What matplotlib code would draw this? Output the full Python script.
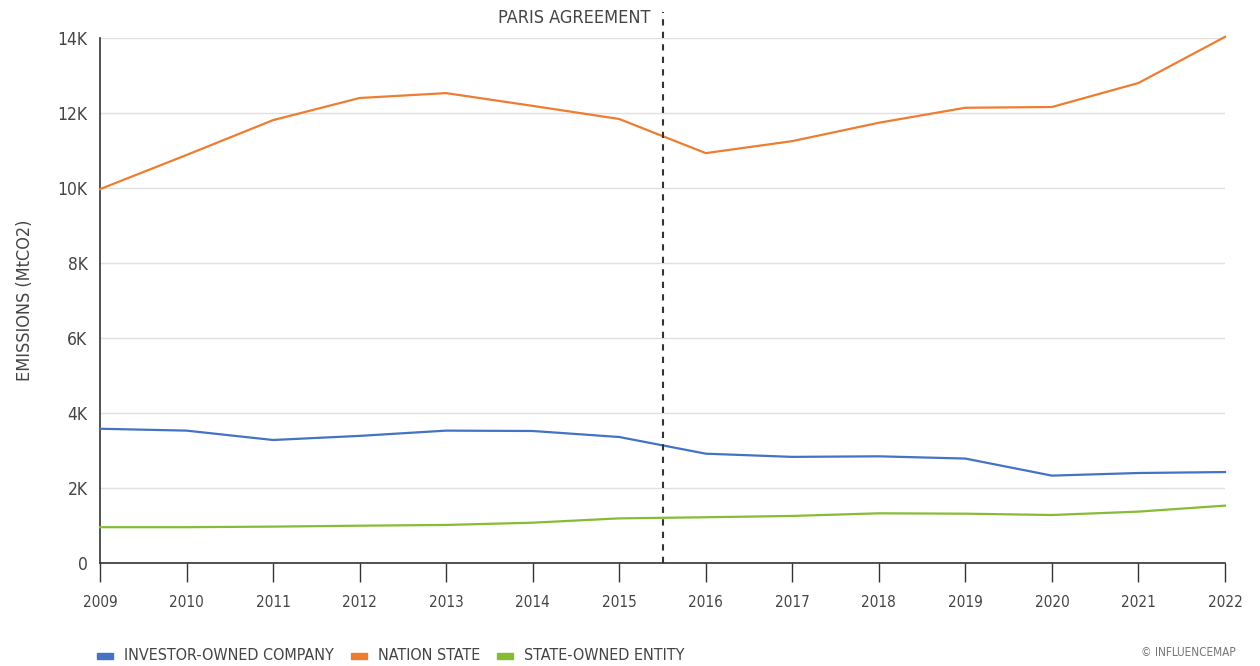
import matplotlib.pyplot as plt
from matplotlib import font_manager
from matplotlib.patches import Rectangle

# look for a narrow / condensed face among installed fonts
cands = []
for f in font_manager.fontManager.ttflist:
    low = (f.name + " " + f.fname).lower()
    if "narrow" in low or "condensed" in low or f.stretch in ("condensed", "semi-condensed", 75, 87):
        cands.append(f)
cands.sort(key=lambda f: (f.weight not in (400, "normal", "regular"), "italic" in f.style, "oblique" in f.fname.lower()))
narrow = cands[0].fname if cands else None

def FP(size):
    if narrow:
        return font_manager.FontProperties(fname=narrow, size=size)
    return font_manager.FontProperties(family="DejaVu Sans", size=size)

years = list(range(2009, 2023))
investor = [3580, 3530, 3280, 3390, 3530, 3520, 3360, 2915, 2830, 2845, 2785, 2330, 2400, 2425]
nation = [9970, 10880, 11810, 12400, 12530, 12190, 11840, 10930, 11250, 11740, 12140, 12160, 12800, 14030]
state_owned = [955, 955, 970, 995, 1015, 1075, 1190, 1220, 1255, 1325, 1315, 1280, 1370, 1530]
labels = ["INVESTOR-OWNED COMPANY", "NATION STATE", "STATE-OWNED ENTITY"]
colors = ["#4472C4", "#ED7D31", "#86BC34"]
ytick_vals = [0, 2000, 4000, 6000, 8000, 10000, 12000, 14000]
ytick_labels = ["0", "2K", "4K", "6K", "8K", "10K", "12K", "14K"]
paris_x = 2015.5

txt = "#444444"
fig = plt.figure(figsize=(12.6, 6.66), dpi=100)
ax = fig.add_axes([100 / 1260, 1 - 563 / 666, 1125 / 1260, 525 / 666])

for series, lab, c in zip([investor, nation, state_owned], labels, colors):
    ax.plot(years, series, color=c, lw=1.6, label=lab, clip_on=False, zorder=3)

ax.set_xlim(2009, 2022)
ax.set_ylim(0, 14000)
ax.set_xticks(years)
ax.set_xticklabels([str(y) for y in years], fontproperties=FP(11), color=txt)
ax.set_yticks(ytick_vals)
ax.set_yticklabels(ytick_labels, fontproperties=FP(12.5), color=txt)
ax.grid(axis="y", color="#e0e0e0", lw=1)
ax.set_axisbelow(True)
for s in ["top", "right"]:
    ax.spines[s].set_visible(False)
for s in ["left", "bottom"]:
    ax.spines[s].set_color("#333333")
    ax.spines[s].set_linewidth(1.2)
ax.tick_params(axis="x", length=14, width=1, color="#333333", pad=9)
ax.tick_params(axis="y", length=0, pad=9)
fig.text(25 / 1260, 1 - 300 / 666, "EMISSIONS (MtCO2)", rotation=90, ha="center", va="center",
         fontproperties=FP(13), color=txt)

# Paris Agreement marker
ax.plot([paris_x, paris_x], [0, 14700], color="#333333", lw=1.5, ls=(0, (3, 3)), clip_on=False, zorder=4)
ax.text(paris_x - 0.14, 14520, "PARIS AGREEMENT", ha="right", va="center", fontproperties=FP(13), color=txt)

# legend
lx = 97
for lab, c in zip(labels, colors):
    fig.patches.append(Rectangle((lx / 1260, 1 - 659 / 666), 16 / 1260, 6 / 666,
                                 transform=fig.transFigure, color=c))
    t = fig.text((lx + 27) / 1260, 1 - 656 / 666, lab, fontproperties=FP(11.5), color=txt, va="center")
    fig.canvas.draw()
    bb = t.get_window_extent()
    lx = bb.x1 + 17

fig.text(1236 / 1260, 1 - 652 / 666, "© INFLUENCEMAP", fontproperties=FP(8.5), color="#777777", ha="right", va="center")

fig.savefig("out.png", dpi=100)
